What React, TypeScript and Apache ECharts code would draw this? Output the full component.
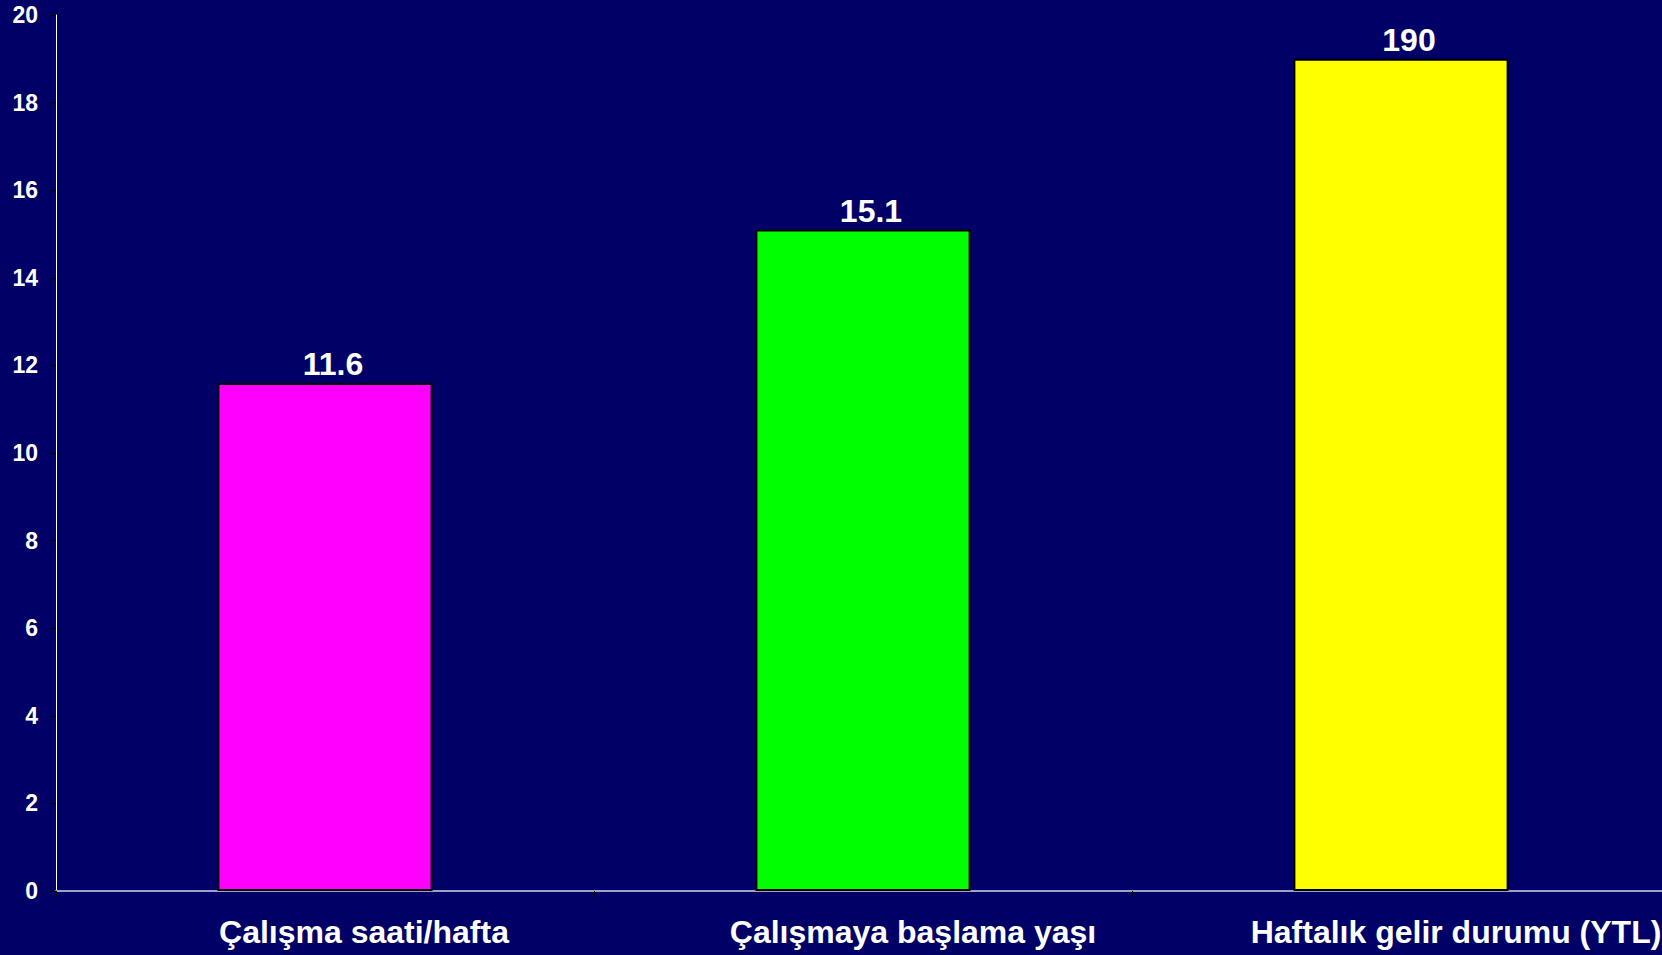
import React, { useEffect, useRef } from "react";
import * as echarts from "echarts";

const categories = ["Çalışma saati/hafta", "Çalışmaya başlama yaşı", "Haftalık gelir durumu (YTL)"];
const values = [11.6, 15.1, 19.0];
const valueLabels = ["11.6", "15.1", "190"];
const barColors = ["#FF00FF", "#00FF00", "#FFFF00"];

export default function App() {
  const ref = useRef<HTMLDivElement>(null);
  useEffect(() => {
    if (!ref.current) return;
    const chart = echarts.init(ref.current, null, { renderer: "svg" });
    const font = "'Liberation Sans', Arial, sans-serif";
    const labelStyle = (shift: number) => ({
      color: "#FFFFFF",
      fontFamily: font,
      fontWeight: "bold",
      fontSize: 32,
      padding: [0, 0, 0, shift],
    });
    chart.setOption({
      animation: false,
      backgroundColor: "#000066",
      grid: { left: 56, width: 1614, top: 15, bottom: 64, containLabel: false, outerBoundsMode: "none" },
      xAxis: {
        type: "category",
        data: categories,
        axisLine: { show: true, lineStyle: { color: "#A0A0C8", width: 2 } },
        axisTick: { show: true, length: 6, lineStyle: { color: "#000000", width: 1 } },
        axisLabel: {
          interval: 0,
          hideOverlap: false,
          color: "#FFFFFF",
          fontFamily: font,
          fontWeight: "bold",
          fontSize: 32,
          margin: 25,
          formatter: (v: string, i: number) => `{c${i}|${v}}`,
          rich: {
            c0: labelStyle(78),
            c1: labelStyle(100),
            c2: labelStyle(110),
          },
        },
        splitLine: { show: false },
      },
      yAxis: {
        type: "value",
        min: 0,
        max: 20,
        interval: 2,
        axisLine: { show: true, lineStyle: { color: "#FFFFFF", width: 1 } },
        axisTick: { show: true, length: 6, lineStyle: { color: "#000000", width: 1 } },
        axisLabel: {
          color: "#FFFFFF",
          fontFamily: font,
          fontWeight: "bold",
          fontSize: 23,
          margin: 18,
        },
        splitLine: { show: false },
      },
      series: [
        {
          type: "bar",
          barWidth: "40%",
          data: values.map((v, i) => ({
            value: v,
            itemStyle: { color: barColors[i], borderColor: "#000000", borderWidth: 2 },
          })),
          label: {
            show: true,
            position: "top",
            distance: 3,
            offset: [8, 0],
            color: "#FFFFFF",
            fontFamily: font,
            fontWeight: "bold",
            fontSize: 32,
            formatter: (p: any) => valueLabels[p.dataIndex],
          },
        },
      ],
    });
    return () => chart.dispose();
  }, []);
  return (
    <div
      style={{
        position: "absolute",
        left: 0,
        top: 0,
        width: 1662,
        height: 955,
        overflow: "hidden",
        background: "#000066",
      }}
    >
      <div ref={ref} style={{ width: 1680, height: 955 }} />
    </div>
  );
}
